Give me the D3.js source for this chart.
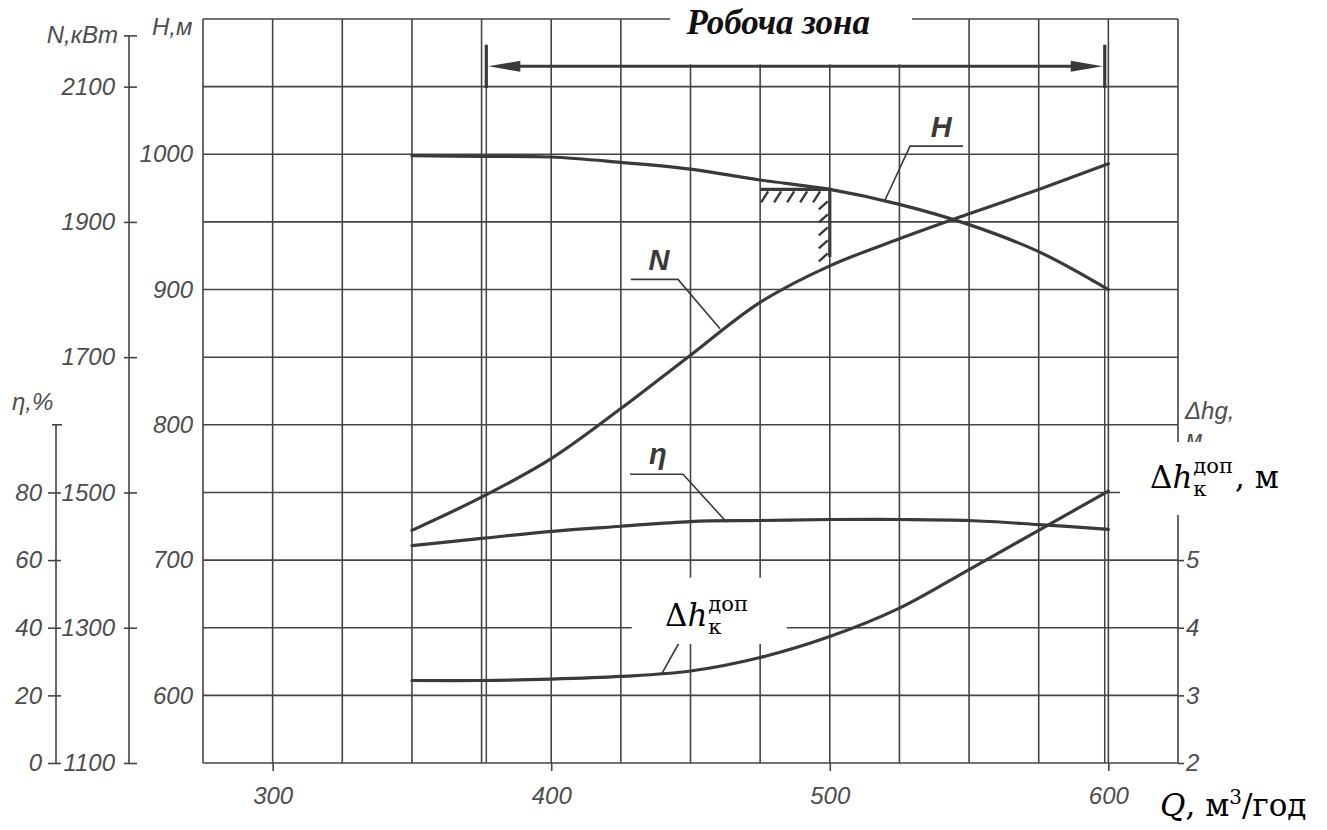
<!DOCTYPE html>
<html>
<head>
<meta charset="utf-8">
<script src="https://cdn.jsdelivr.net/npm/d3@7"></script>
<style>
  body { margin: 0; background: #fff; }
  svg { display: block; }
</style>
</head>
<body>
<script>
// values
const flow = [350, 375, 400, 425, 450, 475, 500, 525, 550, 575, 600];
const head = [999, 998.5, 998, 994, 989, 981, 974, 963, 948, 928, 900];
const power = [1444, 1493, 1550, 1624, 1703, 1781, 1835, 1875, 1912, 1948, 1986];
const efficiency = [64.3, 66.4, 68.5, 70.0, 71.4, 71.7, 72.0, 72.0, 71.7, 70.5, 69.1];
const npsh = [3.22, 3.22, 3.24, 3.28, 3.36, 3.56, 3.87, 4.29, 4.86, 5.44, 6.02];

const flowTicks = [300, 400, 500, 600];
const headTicks = [600, 700, 800, 900, 1000];
const powerTicks = [1100, 1300, 1500, 1700, 1900, 2100];
const etaTicks = [0, 20, 40, 60, 80];
const npshTicks = [2, 3, 4, 5];
const workZone = [376.7, 598.7];
const designFlow = 500;

const width = 1327, height = 830;
const plotL = 203, plotR = 1178, plotT = 19, plotB = 763;
const ink = "#3a3a3a", grey = "#4d4d4d";
const sans = "'Liberation Sans', Arial, sans-serif";
const serif = "'DejaVu Serif', serif";

const x = d3.scaleLinear().domain([275, 625]).range([plotL, plotR]);
const yH = d3.scaleLinear().domain([550, 1100]).range([plotB, plotT]);
const yN = d3.scaleLinear().domain([1100, 2200]).range([plotB, plotT]);
const yEta = d3.scaleLinear().domain([0, 220]).range([plotB, plotT]);
const yDh = d3.scaleLinear().domain([2, 13]).range([plotB, plotT]);

const svg = d3.select("body").append("svg")
    .attr("width", width)
    .attr("height", height);

// grid
const grid = svg.append("g").attr("stroke", "#444").attr("stroke-width", 1.6);
grid.selectAll("line.v")
    .data(d3.range(275, 626, 25))
    .enter().append("line")
    .attr("x1", d => x(d)).attr("x2", d => x(d))
    .attr("y1", plotT).attr("y2", plotB);
grid.selectAll("line.h")
    .data(d3.range(550, 1101, 50))
    .enter().append("line")
    .attr("x1", plotL).attr("x2", plotR)
    .attr("y1", d => yH(d)).attr("y2", d => yH(d));

// working zone markers (thin lines to the bottom)
svg.selectAll("line.zone")
    .data(workZone)
    .enter().append("line")
    .attr("x1", d => x(d)).attr("x2", d => x(d))
    .attr("y1", yH(1049)).attr("y2", plotB)
    .attr("stroke", "#444").attr("stroke-width", 1.5);

// curves
const series = [
    { values: head, y: yH },
    { values: power, y: yN },
    { values: efficiency, y: yEta },
    { values: npsh, y: yDh }
];
series.forEach(s => {
    const line = d3.line()
        .x((d, i) => x(flow[i]))
        .y(d => s.y(d))
        .curve(d3.curveCatmullRom.alpha(0.5));
    svg.append("path")
        .attr("d", line(s.values))
        .attr("fill", "none")
        .attr("stroke", ink)
        .attr("stroke-width", 3.2)
        .attr("stroke-linecap", "round");
});

// design point hatch
const hq = designFlow, hh = head[flow.indexOf(designFlow)];
const hatch = svg.append("g").attr("stroke", ink).attr("fill", "none");
hatch.append("path")
    .attr("d", `M${x(hq - 25)},${yH(hh)}H${x(hq)}V${yH(hh - 50)}`)
    .attr("stroke-width", 3.2);
hatch.selectAll("line.hx")
    .data(d3.range(x(hq - 25) + 8, x(hq) - 2, 13))
    .enter().append("line")
    .attr("x1", d => d).attr("y1", yH(hh) + 2)
    .attr("x2", d => d - 7).attr("y2", yH(hh) + 13)
    .attr("stroke-width", 2.4);
hatch.selectAll("line.hy")
    .data(d3.range(yH(hh) + 12, yH(hh - 50), 13))
    .enter().append("line")
    .attr("x1", x(hq) - 2).attr("y1", d => d)
    .attr("x2", x(hq) - 11).attr("y2", d => d + 8)
    .attr("stroke-width", 2.4);

// axes
const tickText = g => g.selectAll("text")
    .attr("fill", grey)
    .attr("font-family", sans)
    .attr("font-size", 24)
    .attr("font-style", "italic");
const plain = d3.format("d");

svg.append("g")
    .attr("transform", `translate(${plotL},0)`)
    .call(d3.axisLeft(yH).tickValues(headTicks).tickFormat(plain).tickSize(0).tickPadding(10))
    .call(g => g.select(".domain").remove())
    .call(tickText);

const nAxisX = 129;
svg.append("line")
    .attr("x1", nAxisX).attr("x2", nAxisX)
    .attr("y1", yN(2175)).attr("y2", yN(1100))
    .attr("stroke", "#444").attr("stroke-width", 1.6);
svg.append("line")
    .attr("x1", nAxisX - 5).attr("x2", nAxisX + 8)
    .attr("y1", yN(2175)).attr("y2", yN(2175))
    .attr("stroke", "#444").attr("stroke-width", 1.6);
svg.append("g")
    .attr("transform", `translate(${nAxisX},0)`)
    .call(d3.axisLeft(yN).tickValues(powerTicks).tickFormat(plain).tickSize(6).tickPadding(8))
    .call(g => g.select(".domain").remove())
    .call(g => g.selectAll(".tick line").attr("x2", 8).attr("x1", -5).attr("stroke", "#444").attr("stroke-width", 1.6))
    .call(tickText);

const etaAxisX = 56;
svg.append("line")
    .attr("x1", etaAxisX).attr("x2", etaAxisX)
    .attr("y1", yEta(100)).attr("y2", yEta(0))
    .attr("stroke", "#444").attr("stroke-width", 1.6);
svg.append("line")
    .attr("x1", etaAxisX - 4).attr("x2", etaAxisX + 6)
    .attr("y1", yEta(100)).attr("y2", yEta(100))
    .attr("stroke", "#444").attr("stroke-width", 1.6);
svg.append("g")
    .attr("transform", `translate(${etaAxisX},0)`)
    .call(d3.axisLeft(yEta).tickValues(etaTicks).tickFormat(plain).tickSize(8).tickPadding(6))
    .call(g => g.select(".domain").remove())
    .call(g => g.selectAll(".tick line").attr("x1", 5).attr("stroke", "#444").attr("stroke-width", 1.6))
    .call(tickText);

svg.append("g")
    .attr("transform", `translate(${plotR},0)`)
    .call(d3.axisRight(yDh).tickValues(npshTicks).tickFormat(plain).tickSize(6).tickPadding(2))
    .call(g => g.select(".domain").remove())
    .call(g => g.selectAll(".tick line").attr("stroke", "#444").attr("stroke-width", 1.6))
    .call(tickText);

svg.append("g")
    .attr("transform", `translate(0,${plotB})`)
    .call(d3.axisBottom(x).tickValues(flowTicks).tickFormat(plain).tickSize(8).tickPadding(16))
    .call(g => g.select(".domain").remove())
    .call(g => g.selectAll(".tick line").attr("stroke", "#444").attr("stroke-width", 1.6))
    .call(tickText);

// axis titles
const axisTitle = (tx, ty, str, anchor) => svg.append("text")
    .attr("x", tx).attr("y", ty)
    .attr("text-anchor", anchor || "start")
    .attr("fill", grey)
    .attr("font-family", sans)
    .attr("font-size", 24)
    .attr("font-style", "italic")
    .text(str);
axisTitle(118, 43, "N,кВт", "end");
axisTitle(152, 35, "H,м");
axisTitle(12, 410, "η,%");
axisTitle(1185, 419, "Δhg,");
axisTitle(1186, 447, "м");

// working zone title and arrow
svg.append("rect")
    .attr("x", 670).attr("y", 0)
    .attr("width", 242).attr("height", yH(1065) - 2)
    .attr("fill", "#fff");
svg.append("text")
    .attr("x", x(481.5)).attr("y", 34)
    .attr("text-anchor", "middle")
    .attr("font-family", "'Liberation Serif', 'Times New Roman', serif")
    .attr("font-weight", "bold")
    .attr("font-style", "italic")
    .attr("font-size", 35)
    .attr("fill", "#111")
    .text("Робоча зона");

const arrowY = yH(1065);
const zl = x(workZone[0]), zr = x(workZone[1]);
svg.append("line")
    .attr("x1", zl + 20).attr("x2", zr - 20)
    .attr("y1", arrowY).attr("y2", arrowY)
    .attr("stroke", ink).attr("stroke-width", 3);
svg.append("path")
    .attr("d", `M${zl + 2},${arrowY}L${zl + 34},${arrowY - 5.5}L${zl + 34},${arrowY + 5.5}Z M${zr - 2},${arrowY}L${zr - 34},${arrowY - 5.5}L${zr - 34},${arrowY + 5.5}Z`)
    .attr("fill", ink);
svg.selectAll("line.zoneTop")
    .data(workZone)
    .enter().append("line")
    .attr("x1", d => x(d)).attr("x2", d => x(d))
    .attr("y1", yH(1081)).attr("y2", yH(1049))
    .attr("stroke", ink).attr("stroke-width", 3.2);

// curve labels with leader lines
const leader = (pts) => svg.append("polyline")
    .attr("points", pts.map(p => p.join(",")).join(" "))
    .attr("fill", "none")
    .attr("stroke", ink)
    .attr("stroke-width", 1.6);
const curveLabel = (tx, ty, str) => svg.append("text")
    .attr("x", tx).attr("y", ty)
    .attr("text-anchor", "middle")
    .attr("font-family", sans)
    .attr("font-weight", "bold")
    .attr("font-style", "italic")
    .attr("font-size", 29)
    .attr("fill", ink)
    .text(str);

leader([[x(547.8), yH(1006)], [x(528.8), yH(1006)], [x(519.8), yH(966)]]);
curveLabel(x(540), yH(1012.5), "H");
leader([[x(428.6), yN(1815)], [x(445.5), yN(1815)], [x(460.6), yN(1742)]]);
curveLabel(x(438.7), yN(1829), "N");
leader([[x(428.3), yEta(85.4)], [x(447.3), yEta(85.4)], [x(463), yEta(71.2)]]);
curveLabel(x(438.3), yEta(88.3), "η");
leader([[x(446.2), yDh(3.8)], [x(439.8), yDh(3.33)]]);

// formula-style labels: Δh with superscript "доп" and subscript "к"
const measure = (str, size, italic) => {
    const t = svg.append("text")
        .attr("font-family", serif).attr("font-size", size)
        .attr("font-style", italic ? "italic" : "normal")
        .text(str);
    const w = t.node().getComputedTextLength();
    t.remove();
    return w;
};
const formula = (bx, by, size, tail) => {
    const small = size * 0.68;
    const w = measure("Δ", size) + measure("h", size, true);
    const sw = measure("доп", small);
    const t = svg.append("text")
        .attr("x", bx).attr("y", by)
        .attr("font-family", serif)
        .attr("font-size", size)
        .attr("fill", "#000");
    t.append("tspan").text("Δ");
    t.append("tspan").attr("font-style", "italic").text("h");
    t.append("tspan").attr("x", bx + w + 1).attr("dy", -size * 0.5)
        .attr("font-size", small).text("доп");
    t.append("tspan").attr("x", bx + w + 1).attr("dy", size * 0.75)
        .attr("font-size", small).text("к");
    if (tail) {
        t.append("tspan").attr("x", bx + w + sw + 3).attr("dy", -size * 0.25).text(tail);
    }
};

svg.append("rect")
    .attr("x", x(428.9)).attr("y", yDh(4.74))
    .attr("width", x(484.6) - x(428.9)).attr("height", yDh(3.76) - yDh(4.74))
    .attr("fill", "#fff");
formula(665, 626, 31);

svg.append("rect")
    .attr("x", 1120).attr("y", 442)
    .attr("width", width - 1120).attr("height", 73)
    .attr("fill", "#fff");
formula(1150, 488, 31, ", м");

// flow axis title
const q = svg.append("text")
    .attr("x", 1160).attr("y", 816)
    .attr("font-family", serif)
    .attr("font-size", 31)
    .attr("fill", "#000");
q.append("tspan").attr("font-style", "italic").text("Q");
q.append("tspan").text(", м");
q.append("tspan").attr("font-size", 20).attr("dy", -12).text("3");
q.append("tspan").attr("dy", 12).text("/год");
</script>
</body>
</html>
